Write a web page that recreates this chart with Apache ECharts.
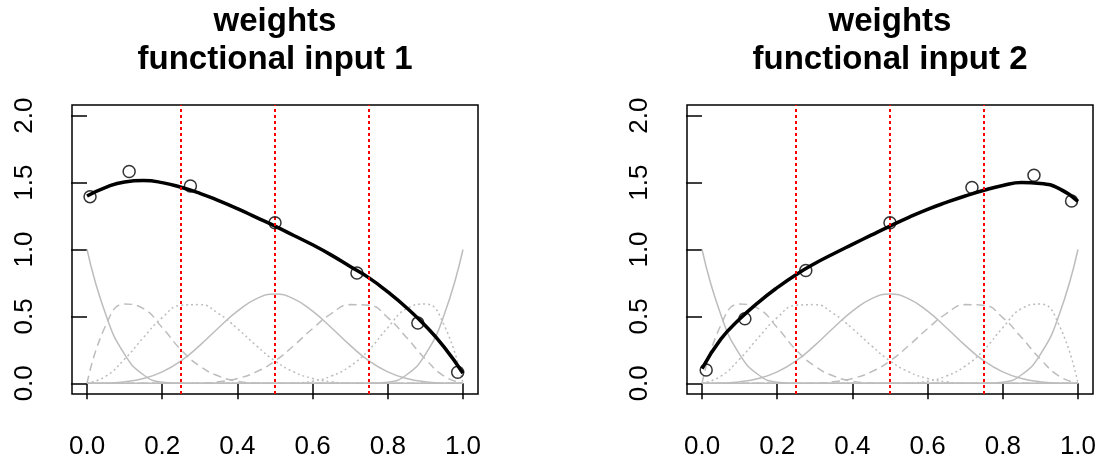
<!DOCTYPE html>
<html>
<head>
<meta charset="utf-8">
<script src="https://cdn.jsdelivr.net/npm/echarts@6/dist/echarts.min.js"></script>
<style>
  html, body { margin: 0; padding: 0; background: #fff; }
  #chart { width: 1102px; height: 463px; }
</style>
</head>
<body>
<div id="chart"></div>
<script>
// sample positions along x for the curves
const xGrid = [0, 0.05, 0.1, 0.15, 0.2, 0.25, 0.3, 0.35, 0.4, 0.45, 0.5, 0.55, 0.6, 0.65, 0.7, 0.75, 0.8, 0.85, 0.9, 0.95, 1]

// grey basis curves (same in both panels)
const basis1 = [1, 0.512, 0.216, 0.064, 0.008, 0, 0, 0, 0, 0, 0, 0, 0, 0, 0, 0, 0, 0, 0, 0, 0]
const basis2 = [0, 0.434, 0.592, 0.558, 0.416, 0.25, 0.128, 0.054, 0.016, 0.002, 0, 0, 0, 0, 0, 0, 0, 0, 0, 0, 0]
const basis3 = [0, 0.053, 0.181, 0.342, 0.491, 0.583, 0.588, 0.521, 0.409, 0.282, 0.167, 0.085, 0.036, 0.011, 0.001, 0, 0, 0, 0, 0, 0]
const basis4 = [0, 0.001, 0.011, 0.036, 0.085, 0.167, 0.283, 0.415, 0.539, 0.631, 0.667, 0.631, 0.539, 0.415, 0.283, 0.167, 0.085, 0.036, 0.011, 0.001, 0]
const basis5 = [0, 0, 0, 0, 0, 0, 0.001, 0.011, 0.036, 0.085, 0.167, 0.282, 0.409, 0.521, 0.588, 0.583, 0.491, 0.342, 0.181, 0.053, 0]
const basis6 = [0, 0, 0, 0, 0, 0, 0, 0, 0, 0, 0, 0.002, 0.016, 0.054, 0.128, 0.25, 0.416, 0.558, 0.592, 0.434, 0]
const basis7 = [0, 0, 0, 0, 0, 0, 0, 0, 0, 0, 0, 0, 0, 0, 0, 0, 0.008, 0.064, 0.216, 0.512, 1]

// black weight curves
const weights1 = [1.40, 1.465, 1.505, 1.515, 1.50, 1.465, 1.42, 1.365, 1.305, 1.24, 1.175, 1.105, 1.035, 0.958, 0.873, 0.788, 0.683, 0.565, 0.43, 0.27, 0.075]
const weights2 = [0.11, 0.33, 0.48, 0.605, 0.715, 0.812, 0.895, 0.968, 1.038, 1.107, 1.175, 1.24, 1.30, 1.352, 1.40, 1.443, 1.478, 1.50, 1.494, 1.455, 1.36]

// open circles
const pointX1 = [0.008, 0.112, 0.275, 0.5, 0.718, 0.88, 0.986]
const pointY1 = [1.395, 1.583, 1.475, 1.2, 0.825, 0.45, 0.083]
const pointX2 = [0.011, 0.114, 0.276, 0.5, 0.718, 0.883, 0.983]
const pointY2 = [0.10, 0.482, 0.843, 1.2, 1.463, 1.555, 1.362]

const knots = [0.25, 0.5, 0.75]
const xTicks = [0, 0.2, 0.4, 0.6, 0.8, 1]
const yTicks = [0, 0.5, 1, 1.5, 2]
const titles = ['weights\nfunctional input 1', 'weights\nfunctional input 2']

const basisList = [basis1, basis2, basis3, basis4, basis5, basis6, basis7]
const basisDash = ['solid', [8, 5], [2, 3], 'solid', [8, 5], [2, 3], 'solid']
const panelLeft = [72, 687]
const font = 'Liberation Sans, Arial, sans-serif'

function pairs(xv, yv) {
  return xv.map((x, i) => [x, yv[i]])
}

function makeAxes(i) {
  let xAxis = {
    type: 'value',
    gridIndex: i,
    min: -0.04,
    max: 1.04,
    splitLine: { show: false },
    axisLine: { show: false },
    axisTick: { show: true, customValues: xTicks, length: 16, lineStyle: { color: '#000', width: 1.5 } },
    axisLabel: {
      customValues: xTicks,
      margin: 40,
      fontSize: 26,
      fontFamily: font,
      color: '#000',
      formatter: v => v.toFixed(1)
    }
  }
  let yAxis = {
    type: 'value',
    gridIndex: i,
    min: -0.08,
    max: 2.08,
    splitLine: { show: false },
    axisLine: { show: false },
    axisTick: { show: true, customValues: yTicks, length: 16, lineStyle: { color: '#000', width: 1.5 } },
    axisLabel: {
      customValues: yTicks,
      rotate: 90,
      margin: 34,
      fontSize: 26,
      fontFamily: font,
      color: '#000',
      formatter: v => v.toFixed(1)
    }
  }
  return { xAxis, yAxis }
}

function makeSeries(i, weights, px, py) {
  let list = []
  basisList.forEach((b, k) => {
    list.push({
      type: 'line',
      xAxisIndex: i,
      yAxisIndex: i,
      data: pairs(xGrid, b),
      smooth: true,
      symbol: 'none',
      lineStyle: { color: '#bdbdbd', width: 1.5, type: basisDash[k] },
      z: 2
    })
  })
  // knot lines
  list.push({
    type: 'line',
    xAxisIndex: i,
    yAxisIndex: i,
    data: [],
    markLine: {
      silent: true,
      symbol: 'none',
      label: { show: false },
      lineStyle: { color: '#ff0000', width: 2, type: [3, 3], opacity: 1 },
      emphasis: { disabled: true },
      data: knots.map(v => ({ xAxis: v }))
    },
    z: 3
  })
  list.push({
    type: 'line',
    xAxisIndex: i,
    yAxisIndex: i,
    data: pairs(xGrid, weights),
    smooth: true,
    symbol: 'none',
    lineStyle: { color: '#000', width: 3.5 },
    z: 4
  })
  list.push({
    type: 'scatter',
    xAxisIndex: i,
    yAxisIndex: i,
    data: pairs(px, py),
    symbol: 'circle',
    symbolSize: 12,
    itemStyle: { color: 'transparent', borderColor: '#000', borderWidth: 1.5 },
    z: 5
  })
  return list
}

const chart = echarts.init(document.getElementById('chart'))
const a1 = makeAxes(0)
const a2 = makeAxes(1)

const option = {
  animation: false,
  backgroundColor: '#fff',
  title: titles.map((t, i) => ({
    text: t,
    left: panelLeft[i] + 203,
    top: 3,
    padding: 0,
    textAlign: 'center',
    textStyle: { fontSize: 33, fontWeight: 'bold', fontFamily: font, lineHeight: 38, color: '#000' }
  })),
  grid: panelLeft.map(l => ({
    left: l,
    top: 105,
    width: 406,
    height: 289,
    show: true,
    borderColor: '#000',
    borderWidth: 1.5,
    backgroundColor: 'transparent'
  })),
  xAxis: [a1.xAxis, a2.xAxis],
  yAxis: [a1.yAxis, a2.yAxis],
  series: makeSeries(0, weights1, pointX1, pointY1).concat(makeSeries(1, weights2, pointX2, pointY2))
}

option && chart.setOption(option)
</script>
</body>
</html>
